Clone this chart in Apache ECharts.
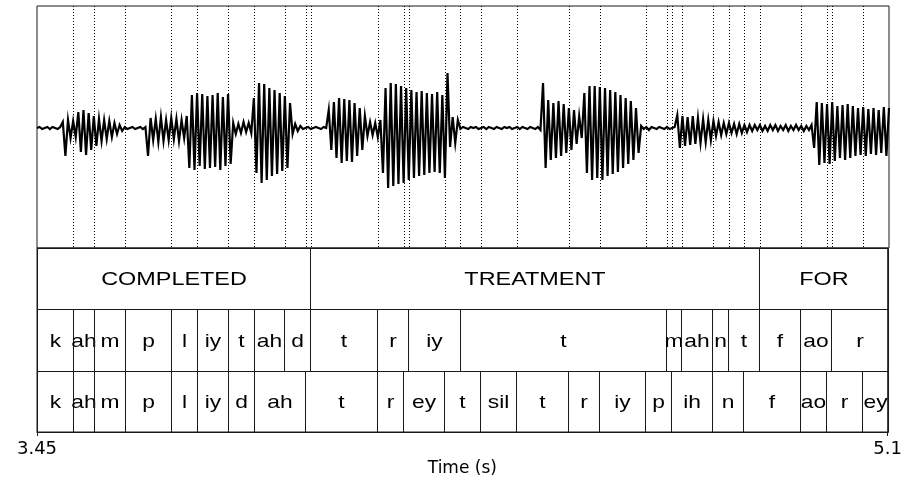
<!DOCTYPE html>
<html>
<head>
<meta charset="utf-8">
<title>Waveform with word and phone alignment</title>
<script src="https://cdn.jsdelivr.net/npm/echarts@6/dist/echarts.min.js"></script>
<style>
  html, body { margin: 0; padding: 0; background: #fff; }
  #chart { width: 905px; height: 482px; }
</style>
</head>
<body>
<div id="chart"></div>
<script>
// Time span shown on the axis (seconds)
const timeStart = 3.45;
const timeEnd = 5.1;
const tickValues = [3.45, 5.1];

// Waveform samples, one every 5 ms from timeStart (amplitude, arbitrary units)
const sampleStep = 0.005;
const waveCompleted = [
  0, 1, -1, 0, 1, -1, 1, 0, -1, 1,
  6, -28, 8, -10, 7, -9,
  16, -24, 18, -27, 15, -22, 12, -18,
  9, -13, 8, -11, 7, -9, 5, -6, 3, -3,
  1, -1, 0, 1, -1, 0, 1, -1, 1,
  -28, 10, -12, 9, -14, 11, -13, 8, -12, 10, -11, 9, -13, 8, -10, 12,
  -40, 33, -42, 35, -38, 34, -41, 32, -40, 33, -39, 35, -42, 31, -38, 34, -36,
  5, -6, 4, -5, 6, -4, 5, -5,
  30, -45, 45, -55, 44, -52, 40, -48, 38, -46, 35, -43, 32, -40, 25,
  -6, 4, -3, 2, -1,
  0, 1, -1, 0, 1, 0, -1, 1, 0
];
const waveTreatment = [
  18, -22, 26, -30, 30, -35, 29, -33, 28, -34, 25, -28, 20, -22, 12,
  -8, 6, -7, 5, -9, 8,
  -45, 40, -60, 45, -58, 44, -56, 42, -55, 40, -52, 38, -50, 36, -48, 37, -47, 35, -45, 34, -44, 36, -45, 33, -50, 55,
  -19, 11, -15, 8,
  -1, 1, 0, -1, 1, 0, 1, -1, 0, 1, -1, 1, 0, -1, 1, 0, -1, 1, 0, 1, -1, 0, 1, -1, 1, 0, -1, 1, 0, -1, 1, -2,
  45, -40, 28, -32, 25, -30, 27, -28, 24, -25, 20, -22, 18, -16, 12, -10,
  35, -45, 42, -52, 42, -50, 41, -52, 40, -48, 38, -46, 36, -44, 33, -40, 30, -36, 27, -32, 20, -25,
  2, -1, 1, -2, 1, 0, -1, 1, 0, -1, 1, -1, 0, 1,
  13, -20, 12, -18, 11, -17, 12, -16, 10, -15, 9, -14, 8, -12, 7,
  -8, 6, -7, 5, -6, 5, -5, 4, -6, 4, -5, 3, -4
];
const waveFor = [
  3, -3, 3, -2, 3, -3, 2, -3, 3, -2, 3, -3, 2, -2, 3, -3, 2, -2, 3, -2, 2, -3, 2, -2, 3,
  -20, 26, -37, 25, -35, 24, -36, 26, -33, 22, -30, 23, -32, 24, -30, 22, -28, 20, -27, 21,
  -28, 19, -26, 20, -27, 18, -25, 21, -28, 20
];

// Word tier: [start, end, label]
const words = [
  [3.45, 3.98, 'COMPLETED'],
  [3.98, 4.85, 'TREATMENT'],
  [4.85, 5.10, 'FOR']
];

// Phone tier, first transcription
const phonesA = [
  [3.45, 3.52, 'k'], [3.52, 3.56, 'ah'], [3.56, 3.62, 'm'], [3.62, 3.71, 'p'],
  [3.71, 3.76, 'l'], [3.76, 3.82, 'iy'], [3.82, 3.87, 't'], [3.87, 3.93, 'ah'],
  [3.93, 3.98, 'd'], [3.98, 4.11, 't'], [4.11, 4.17, 'r'], [4.17, 4.27, 'iy'],
  [4.27, 4.67, 't'], [4.67, 4.70, 'm'], [4.70, 4.76, 'ah'], [4.76, 4.79, 'n'],
  [4.79, 4.85, 't'], [4.85, 4.93, 'f'], [4.93, 4.99, 'ao'], [4.99, 5.10, 'r']
];

// Phone tier, second transcription
const phonesB = [
  [3.45, 3.52, 'k'], [3.52, 3.56, 'ah'], [3.56, 3.62, 'm'], [3.62, 3.71, 'p'],
  [3.71, 3.76, 'l'], [3.76, 3.82, 'iy'], [3.82, 3.87, 'd'], [3.87, 3.97, 'ah'],
  [3.97, 4.11, 't'], [4.11, 4.16, 'r'], [4.16, 4.24, 'ey'], [4.24, 4.31, 't'],
  [4.31, 4.38, 'sil'], [4.38, 4.48, 't'], [4.48, 4.54, 'r'], [4.54, 4.63, 'iy'],
  [4.63, 4.68, 'p'], [4.68, 4.76, 'ih'], [4.76, 4.82, 'n'], [4.82, 4.93, 'f'],
  [4.93, 4.98, 'ao'], [4.98, 5.05, 'r'], [5.05, 5.10, 'ey']
];

// ---- build series data ----
const samples = waveCompleted.concat(waveTreatment, waveFor);
const waveData = samples.map((v, i) => [+(timeStart + i * sampleStep).toFixed(4), v]);

// every interior boundary from all tiers gets a dotted guide over the waveform
const boundarySet = new Set();
[words, phonesA, phonesB].forEach(tier => tier.forEach(seg => {
  if (seg[0] > timeStart) boundarySet.add(seg[0].toFixed(3));
}));
const boundaries = Array.from(boundarySet).map(Number).sort((a, b) => a - b).map(t => [t]);

const crisp = v => Math.round(v) + 0.5;
const ampTop = 122, ampBottom = -120;

function tierSeries(tier, row, fontSize, stretch) {
  return {
    type: 'custom',
    xAxisIndex: 1,
    yAxisIndex: 1,
    silent: true,
    clip: false,
    data: tier.map(s => [s[0], s[1], row]),
    renderItem: function (params, api) {
      const seg = tier[params.dataIndex];
      const p0 = api.coord([api.value(0), api.value(2) + 1]);
      const p1 = api.coord([api.value(1), api.value(2)]);
      const x0 = crisp(p0[0]), x1 = crisp(p1[0]);
      const y0 = crisp(p0[1]), y1 = crisp(p1[1]);
      return {
        type: 'group',
        children: [
          {
            type: 'rect',
            shape: { x: x0, y: y0, width: x1 - x0, height: y1 - y0 },
            style: { fill: null, stroke: '#1a1a1a', lineWidth: 1 }
          },
          {
            type: 'text',
            x: (x0 + x1) / 2,
            y: (y0 + y1) / 2 + 1,
            scaleX: stretch,
            style: {
              text: seg[2],
              fill: '#000',
              fontSize: fontSize,
              fontFamily: '"Liberation Sans", Arial, sans-serif',
              align: 'center',
              verticalAlign: 'middle'
            }
          }
        ]
      };
    }
  };
}

const chart = echarts.init(document.getElementById('chart'), null, { renderer: 'canvas' });

chart.setOption({
  animation: false,
  backgroundColor: '#fff',
  grid: [
    { left: 37, top: 6, width: 852, height: 242, show: true, borderColor: '#1a1a1a', borderWidth: 1, backgroundColor: 'transparent' },
    { left: 37, top: 248, width: 852, height: 184, show: true, borderColor: '#1a1a1a', borderWidth: 1, backgroundColor: 'transparent' }
  ],
  xAxis: [
    { type: 'value', gridIndex: 0, min: timeStart, max: timeEnd, show: false },
    {
      type: 'value', gridIndex: 1, min: timeStart, max: timeEnd,
      name: 'Time (s)', nameLocation: 'middle', nameGap: 28,
      nameTextStyle: { color: '#000', fontSize: 17, fontFamily: '"DejaVu Sans", sans-serif' },
      axisLine: { show: true, lineStyle: { color: '#1a1a1a', width: 1 } },
      axisTick: { show: true, customValues: tickValues, length: 4, inside: false, lineStyle: { color: '#1a1a1a' } },
      axisLabel: {
        show: true, customValues: tickValues, margin: 8,
        color: '#000', fontSize: 18, fontFamily: '"DejaVu Sans", sans-serif',
        formatter: v => String(+v.toFixed(2))
      },
      splitLine: { show: false }
    }
  ],
  yAxis: [
    { type: 'value', gridIndex: 0, min: ampBottom, max: ampTop, show: false },
    { type: 'value', gridIndex: 1, min: 0, max: 3, show: false }
  ],
  series: [
    {
      type: 'custom',
      xAxisIndex: 0,
      yAxisIndex: 0,
      silent: true,
      data: boundaries,
      renderItem: function (params, api) {
        const top = api.coord([api.value(0), ampTop]);
        const bottom = api.coord([api.value(0), ampBottom]);
        const x = crisp(top[0]);
        return {
          type: 'line',
          shape: { x1: x, y1: top[1], x2: x, y2: bottom[1] },
          style: { stroke: '#000', lineWidth: 1, lineDash: [1, 2] }
        };
      }
    },
    {
      type: 'line',
      xAxisIndex: 0,
      yAxisIndex: 0,
      data: waveData,
      symbol: 'none',
      silent: true,
      lineStyle: { color: '#000', width: 2.2, join: 'miter' }
    },
    tierSeries(words, 2, 18, 1.3),
    tierSeries(phonesA, 1, 19, 1.2),
    tierSeries(phonesB, 0, 19, 1.2)
  ]
});
</script>
</body>
</html>
